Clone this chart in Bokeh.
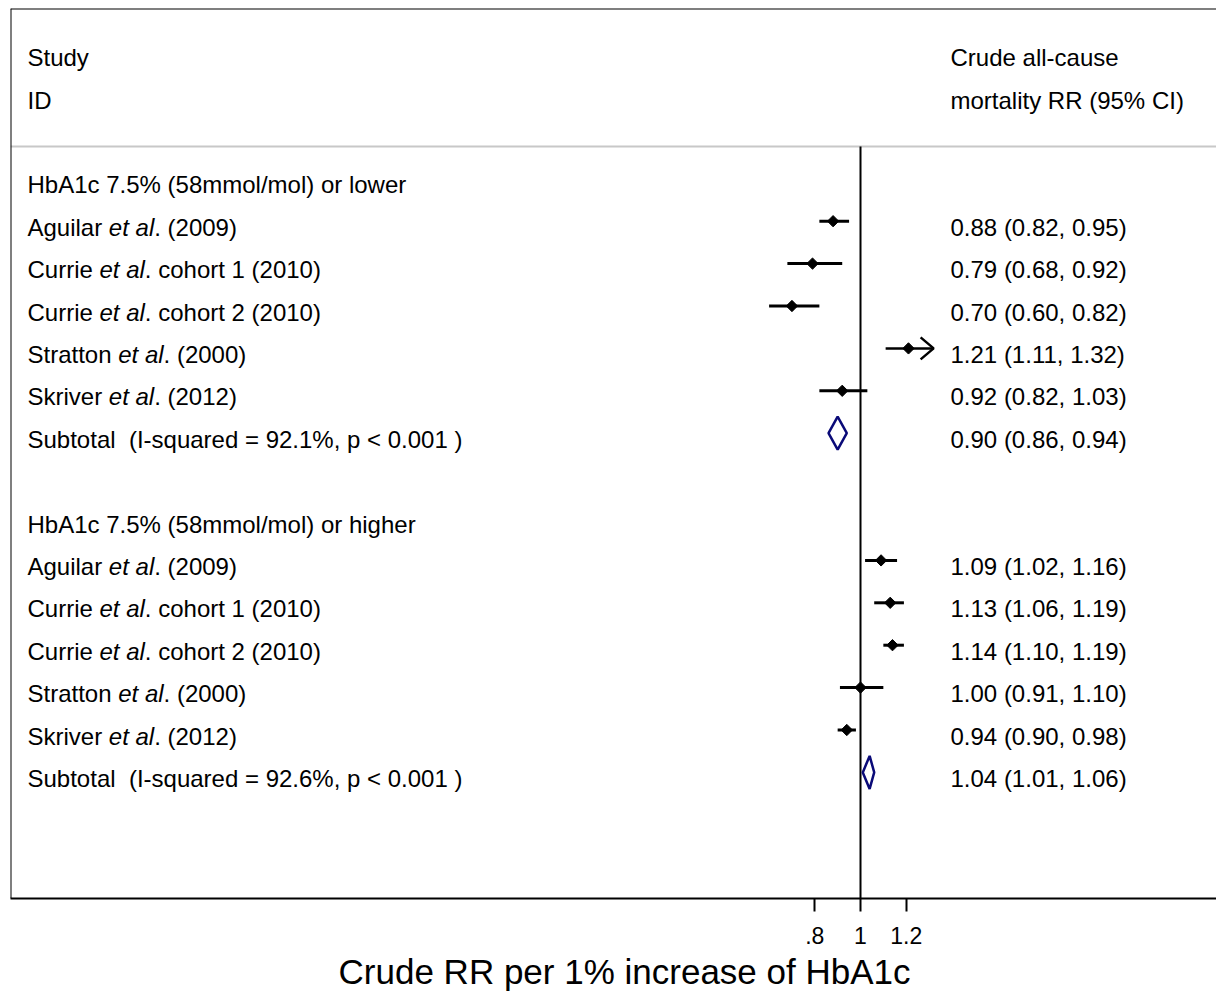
import math
from bokeh.plotting import figure
from bokeh.models import ColumnDataSource, Range1d, FixedTicker, Span, Title
from bokeh.embed import file_html
from bokeh.resources import INLINE
from bokeh.core.properties import value

# ---------------- data ----------------
header_left = ["Study", "ID"]
header_right = ["Crude all-cause", "mortality RR (95% CI)"]
group_labels = ["HbA1c 7.5% (58mmol/mol) or lower", "HbA1c 7.5% (58mmol/mol) or higher"]
study_names = ["Aguilar", "Currie", "Currie", "Stratton", "Skriver"]
study_suffix = [". (2009)", ". cohort 1 (2010)", ". cohort 2 (2010)", ". (2000)", ". (2012)"]
etal = "et al"

rr_lower = [0.88, 0.79, 0.70, 1.21, 0.92]
lo_lower = [0.82, 0.68, 0.60, 1.11, 0.82]
hi_lower = [0.95, 0.92, 0.82, 1.32, 1.03]
rr_higher = [1.09, 1.13, 1.14, 1.00, 0.94]
lo_higher = [1.02, 1.06, 1.10, 0.91, 0.90]
hi_higher = [1.16, 1.19, 1.19, 1.10, 0.98]

pooled_rr = [0.90, 1.04]
pooled_lo = [0.86, 1.01]
pooled_hi = [0.94, 1.06]
i_squared = [92.1, 92.6]
p_values = ["p < 0.001", "p < 0.001"]

tick_values = [0.8, 1.0, 1.2]
tick_labels = [".8", "1", "1.2"]
x_title = "Crude RR per 1% increase of HbA1c"
ci_clip = 1.3  # intervals beyond this are drawn as arrows

# ---------------- geometry / style ----------------
FONT = "Liberation Sans"
ROW_FS = 24
FIG_W, FIG_H = 1216, 994
FRAME_L_PX, FRAME_R_PX = 10, 1216
FRAME_T_PX, FRAME_B_PX = 8, 898
X_ONE_PX, PX_PER_UNIT = 860.0, 228.5
ROW0_PX, ROW_PX = 178.3, 42.4
LEFT_TEXT_PX, RIGHT_TEXT_PX = 27, 950
BASE_DROP_PX = 6.0
GREY_LINE_PX = 146
TITLE_CENTER_PX = 624
TITLE_FS = 35


def xdata(px):
    return 1 + (px - X_ONE_PX) / PX_PER_UNIT


def ydata(px):
    return -(px - ROW0_PX) / ROW_PX


# Arial / Liberation Sans advance widths (1/1000 em); italic shares metrics
ARIAL_W = {' ': 278, 'A': 667, 'C': 722, 'S': 667, 'a': 556, 'e': 556, 'g': 556,
           'i': 222, 'k': 500, 'l': 222, 'n': 556, 'o': 556, 'r': 333, 't': 278,
           'u': 556, 'v': 500, 'R': 722, 'p': 556, 'd': 556, '1': 556, '%': 889,
           'c': 500, 's': 500, 'f': 278, 'H': 722, 'b': 556}


def text_w(s, size):
    return sum(ARIAL_W.get(c, 556) for c in s) * size / 1000.0


x_left = xdata(LEFT_TEXT_PX)
x_right = xdata(RIGHT_TEXT_PX)
drop = BASE_DROP_PX / ROW_PX

blocks = [
    (group_labels[0], rr_lower, lo_lower, hi_lower, 0),
    (group_labels[1], rr_higher, lo_higher, hi_higher, 8),
]

ln = dict(x=[], y=[], text=[], xoff=[])
it = dict(x=[], y=[], text=[], xoff=[])
rt = dict(x=[], y=[], text=[])
pts = dict(x=[], y=[])
seg = dict(x0=[], x1=[], y=[])
arr = dict(x0=[], x1=[], y=[])
dia = dict(xs=[], ys=[])

for j, (h, t) in enumerate(zip(header_left, header_right)):
    k = -3 + j
    ln["x"].append(x_left); ln["y"].append(-k - drop); ln["text"].append(h); ln["xoff"].append(0)
    rt["x"].append(x_right); rt["y"].append(-k - drop); rt["text"].append(t)

for g, (glabel, rr, lo, hi, k0) in enumerate(blocks):
    ln["x"].append(x_left); ln["y"].append(-k0 - drop); ln["text"].append(glabel); ln["xoff"].append(0)
    for i in range(len(rr)):
        k = k0 + 1 + i
        yb = -k - drop
        w1 = text_w(study_names[i] + " ", ROW_FS)
        w2 = text_w(etal, ROW_FS)
        ln["x"].append(x_left); ln["y"].append(yb); ln["text"].append(study_names[i]); ln["xoff"].append(0)
        it["x"].append(x_left); it["y"].append(yb); it["text"].append(etal); it["xoff"].append(w1)
        ln["x"].append(x_left); ln["y"].append(yb); ln["text"].append(study_suffix[i]); ln["xoff"].append(w1 + w2)
        rt["x"].append(x_right); rt["y"].append(yb)
        rt["text"].append(f"{rr[i]:.2f} ({lo[i]:.2f}, {hi[i]:.2f})")
        pts["x"].append(rr[i]); pts["y"].append(-k)
        if hi[i] > ci_clip:
            arr["x0"].append(lo[i]); arr["x1"].append(hi[i]); arr["y"].append(-k)
        else:
            seg["x0"].append(lo[i]); seg["x1"].append(hi[i]); seg["y"].append(-k)
    k = k0 + 1 + len(rr)
    yb = -k - drop
    ln["x"].append(x_left); ln["y"].append(yb)
    ln["text"].append(f"Subtotal\u00a0 (I-squared = {i_squared[g]:.1f}%, {p_values[g]} )"); ln["xoff"].append(0)
    rt["x"].append(x_right); rt["y"].append(yb)
    rt["text"].append(f"{pooled_rr[g]:.2f} ({pooled_lo[g]:.2f}, {pooled_hi[g]:.2f})")
    hh = 16.5 / ROW_PX
    dia["xs"].append([pooled_lo[g], pooled_rr[g], pooled_hi[g], pooled_rr[g]])
    dia["ys"].append([-k, -k + hh, -k, -k - hh])

x0, x1 = xdata(FRAME_L_PX), xdata(FRAME_R_PX)
y0, y1 = ydata(FRAME_B_PX), ydata(FRAME_T_PX)

p = figure(width=FIG_W, height=FIG_H, x_range=Range1d(x0, x1), y_range=Range1d(y0, y1),
           output_backend="svg", toolbar_location=None,
           min_border_left=FRAME_L_PX, min_border_right=FIG_W - FRAME_R_PX,
           min_border_top=FRAME_T_PX, min_border_bottom=FIG_H - FRAME_B_PX)
p.outline_line_color = None
p.xgrid.visible = False
p.ygrid.visible = False
p.yaxis.visible = False

xa = p.xaxis[0]
xa.ticker = FixedTicker(ticks=tick_values)
xa.major_label_overrides = {v: l for v, l in zip(tick_values, tick_labels)}
xa.axis_line_width = 2
xa.major_tick_line_width = 2
xa.major_tick_out = 13
xa.major_tick_in = 0
xa.minor_tick_line_color = None
xa.major_label_text_font = FONT
xa.major_label_text_font_size = "23px"
xa.major_label_text_color = "black"
xa.major_label_standoff = 15

title_offset = TITLE_CENTER_PX - text_w(x_title, TITLE_FS) / 2 - FRAME_L_PX
p.add_layout(Title(text=x_title, align="left", offset=title_offset, text_font=FONT,
                   text_font_size=f"{TITLE_FS}px", text_font_style="normal",
                   text_color="black", standoff=7), "below")

# borders
p.add_layout(Span(location=x0, dimension="height", line_color="black", line_width=2))
p.add_layout(Span(location=y1, dimension="width", line_color="black", line_width=2))

# grey separator and reference line
p.segment(x0=[x0], y0=[ydata(GREY_LINE_PX)], x1=[x1], y1=[ydata(GREY_LINE_PX)],
          line_color="#c8c8c8", line_width=2)
p.segment(x0=[1.0], y0=[ydata(GREY_LINE_PX)], x1=[1.0], y1=[y0],
          line_color="black", line_width=2)

s_seg = ColumnDataSource(seg)
p.segment(x0="x0", y0="y", x1="x1", y1="y", source=s_seg, line_color="black", line_width=3)

s_arr = ColumnDataSource(arr)
p.segment(x0="x0", y0="y", x1="x1", y1="y", source=s_arr, line_color="black", line_width=2.5)
hx, hy = 13 / PX_PER_UNIT, 11 / ROW_PX
p.multi_line(xs=[[a - hx, a, a - hx] for a in arr["x1"]],
             ys=[[b + hy, b, b - hy] for b in arr["y"]],
             line_color="black", line_width=2.5)

p.scatter(x="x", y="y", source=ColumnDataSource(pts), marker="square", angle=math.pi / 4,
          size=8, fill_color="black", line_color="black")

p.patches(xs="xs", ys="ys", source=ColumnDataSource(dia), fill_color=None,
          line_color="#0a0a78", line_width=2.5)

p.text(x="x", y="y", text="text", x_offset="xoff", source=ColumnDataSource(ln),
       text_font=value(FONT), text_font_size=f"{ROW_FS}px", text_baseline="alphabetic",
       text_align="left", text_color="black")
p.text(x="x", y="y", text="text", x_offset="xoff", source=ColumnDataSource(it),
       text_font=value(FONT), text_font_size=f"{ROW_FS}px", text_baseline="alphabetic",
       text_align="left", text_color="black", text_font_style="italic")
p.text(x="x", y="y", text="text", source=ColumnDataSource(rt),
       text_font=value(FONT), text_font_size=f"{ROW_FS}px", text_baseline="alphabetic",
       text_align="left", text_color="black")

open("out.html", "w").write(file_html(p, INLINE))
